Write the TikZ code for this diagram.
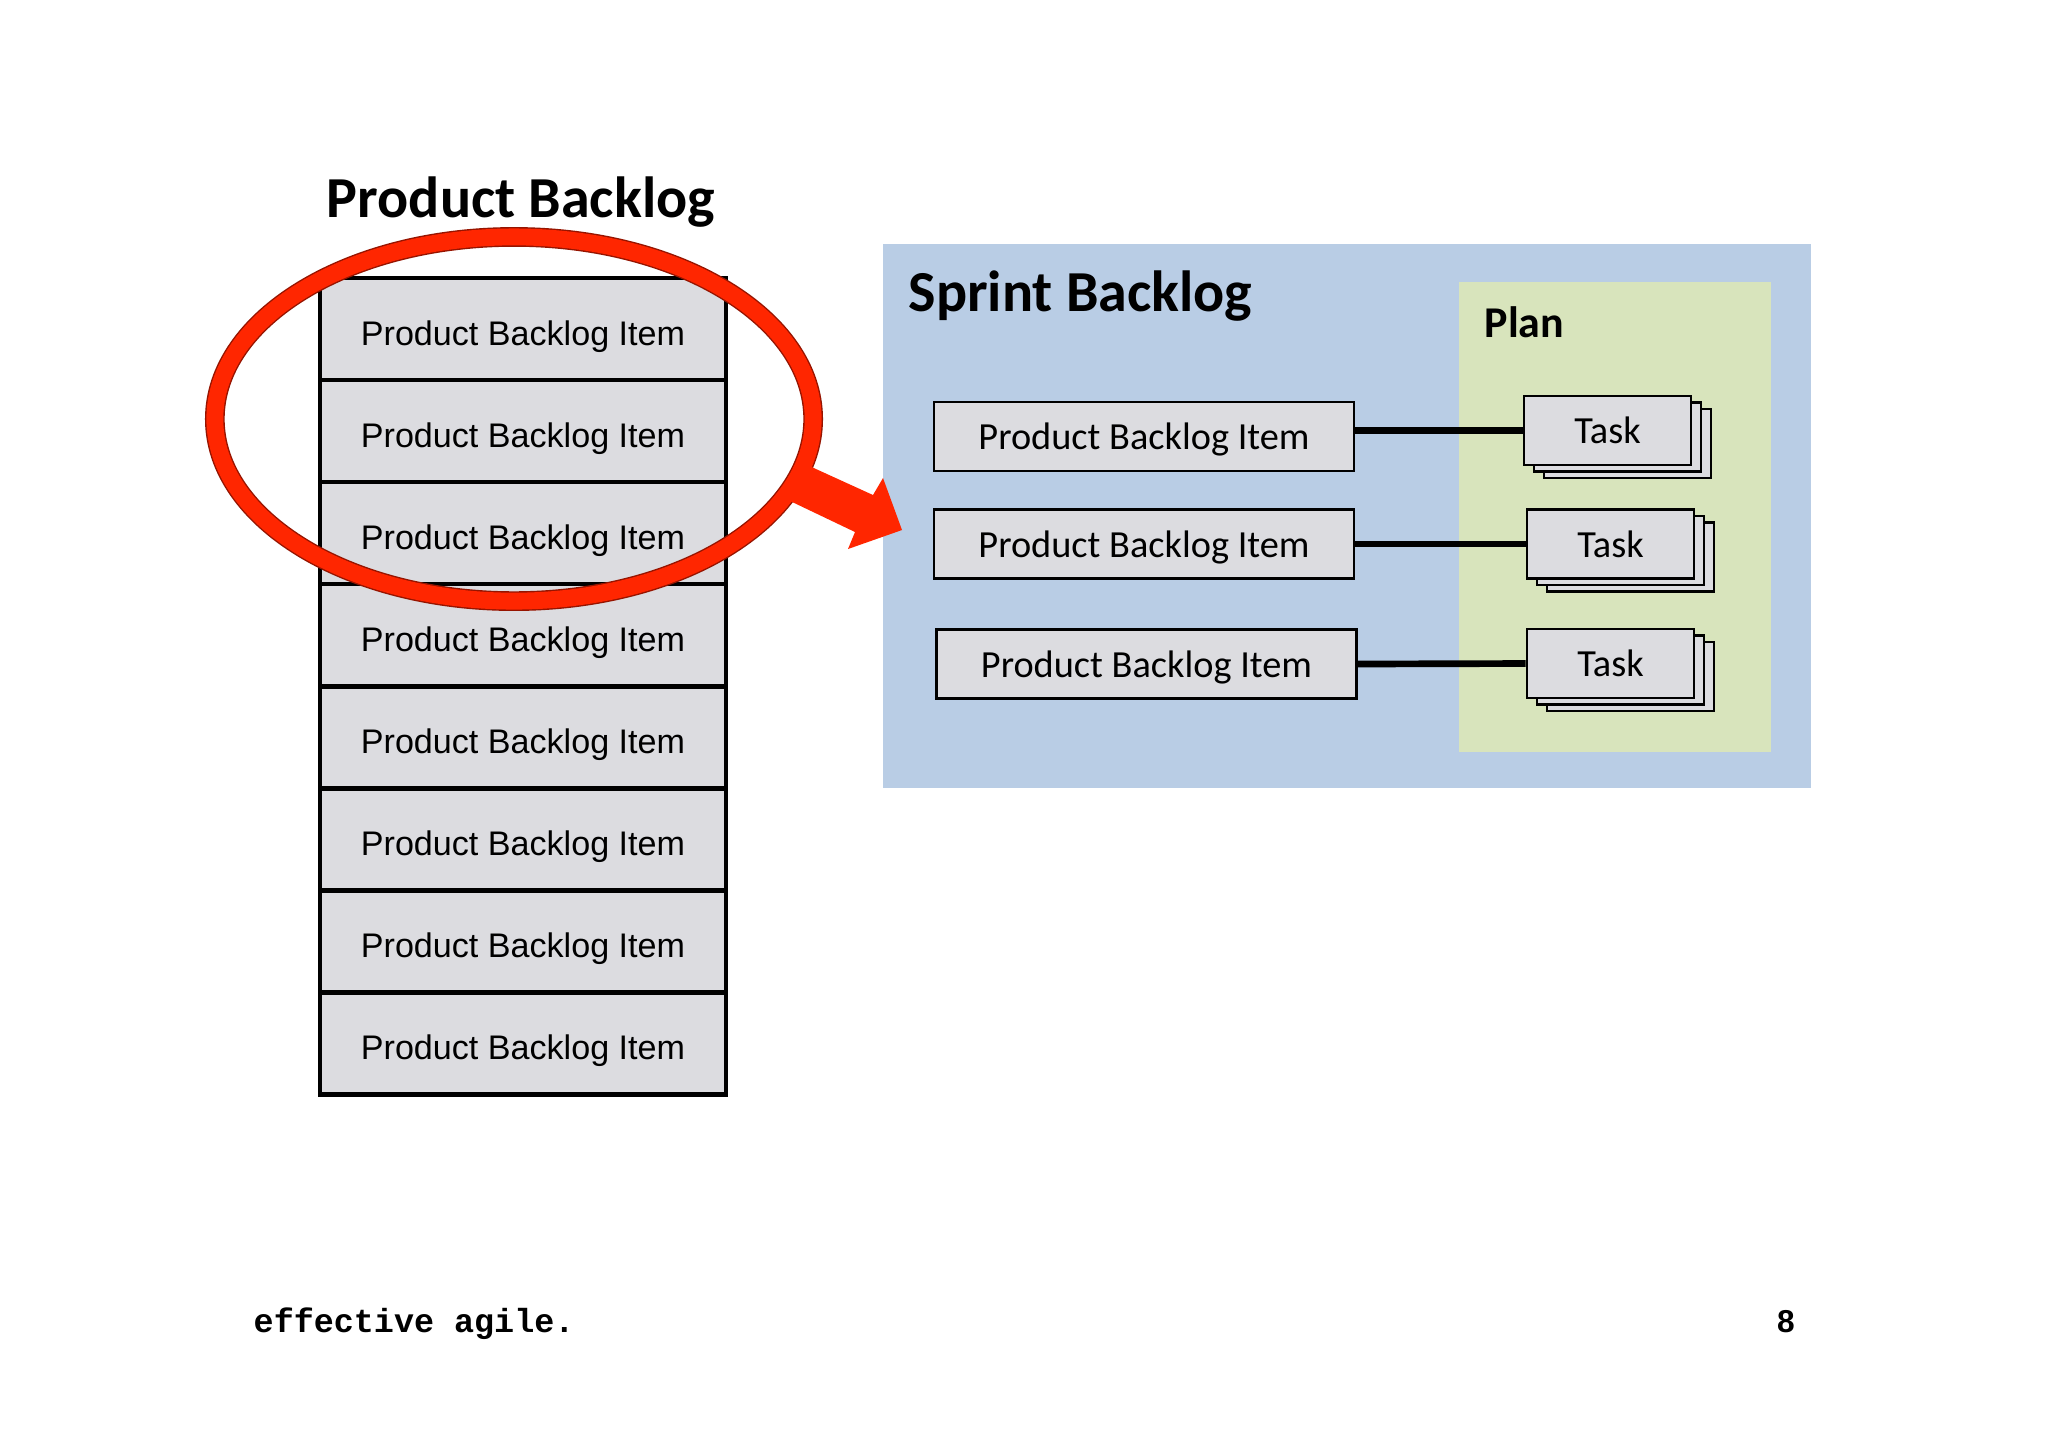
\documentclass[tikz,border=0pt]{standalone}
\usepackage{fontspec}
\setmainfont{Carlito}
\newfontfamily\arialfont{Liberation Sans}
\newfontfamily\courierfont{Liberation Mono}
\usetikzlibrary{positioning,shadows}
\definecolor{itemgray}{RGB}{220,220,224}
\definecolor{sprintblue}{RGB}{185,205,229}
\definecolor{plangreen}{RGB}{216,228,188}
\definecolor{ringred}{RGB}{255,38,0}
\definecolor{ringdark}{RGB}{150,20,0}

\begin{document}
\begin{tikzpicture}[x=0.01cm, y=-0.01cm,
  pbitem/.style={draw, line width=1.3pt, fill=itemgray, minimum width=4.06cm, minimum height=1.02cm, outer sep=0pt, inner sep=0pt,
    text height=1.15em, text depth=0.23em, font=\arialfont\fontsize{9.7}{12}\selectfont},
  sprintitem/.style={draw, line width=0.7pt, fill=itemgray, minimum width=4.2cm, minimum height=0.69cm, inner sep=0pt,
    text height=0.98em, text depth=0.22em, font=\fontsize{10.9}{13}\selectfont},
  taskcard/.style={draw, line width=0.7pt, fill=itemgray, minimum width=1.67cm, minimum height=0.69cm, inner sep=0pt, font=\fontsize{10.9}{13}\selectfont,
    double copy shadow={shadow xshift=0.1cm, shadow yshift=-0.065cm, draw=black, fill=itemgray}},
  link/.style={line width=1.9pt},
  title/.style={font=\bfseries\fontsize{16.5}{20}\selectfont, inner sep=0pt}]

  \fill[white] (0,0) rectangle (2048,1447);
  \useasboundingbox (0,0) rectangle (2048,1447);

  % product backlog
  \node[title, anchor=base] (pbtitle) at (521,217) {Product Backlog};
  \node[pbitem] (pb1) at (523,329) {Product Backlog Item};
  \node[pbitem, below=0pt of pb1] (pb2) {Product Backlog Item};
  \node[pbitem, below=0pt of pb2] (pb3) {Product Backlog Item};
  \node[pbitem, below=0pt of pb3] (pb4) {Product Backlog Item};
  \node[pbitem, below=0pt of pb4] (pb5) {Product Backlog Item};
  \node[pbitem, below=0pt of pb5] (pb6) {Product Backlog Item};
  \node[pbitem, below=0pt of pb6] (pb7) {Product Backlog Item};
  \node[pbitem, below=0pt of pb7] (pb8) {Product Backlog Item};

  % sprint backlog
  \fill[sprintblue] (883,244) rectangle (1811,788);
  \fill[plangreen] (1459,282) rectangle (1771,752); % plan
  \node[title, anchor=base west] (sbtitle) at (908,311) {Sprint Backlog};
  \node[anchor=base west, inner sep=0pt, font=\bfseries\fontsize{12.5}{15}\selectfont] (plan) at (1484,337) {Plan};

  \node[sprintitem] (sb1) at (1144,436.5) {Product Backlog Item};
  \node[sprintitem] (sb2) at (1144,544) {Product Backlog Item};
  \node[sprintitem] (sb3) at (1146.5,664) {Product Backlog Item};
  \node[taskcard] (task1) at (1607.5,430.5) {Task};
  \node[taskcard] (task2) at (1610.5,544) {Task};
  \node[taskcard] (task3) at (1610.5,663.5) {Task};

  \draw[link] (sb1.east |- task1.west) -- (task1.west);
  \draw[link] (sb2.east |- task2.west) -- (task2.west);
  \draw[link] (sb3.east) -- (task3.west);

  % red ring and arrow
  \draw[ringdark, line width=5.6pt] (514,419) ellipse (2.99cm and 1.82cm);
  \draw[ringred, line width=4.8pt] (514,419) ellipse (2.99cm and 1.82cm);
  \fill[ringred] (805,464) -- (873,495) -- (883,478) -- (902,530) -- (848,549) -- (855,532) -- (788,500) -- cycle;

  % footer
  \node[anchor=base west, inner sep=0pt, font=\courierfont\bfseries\fontsize{9.5}{11}\selectfont] (footer) at (253,1332) {effective agile.};
  \node[anchor=base, inner sep=0pt, font=\arialfont\bfseries\fontsize{9}{11}\selectfont] (pagenum) at (1786,1332) {8};
\end{tikzpicture}
\end{document}
